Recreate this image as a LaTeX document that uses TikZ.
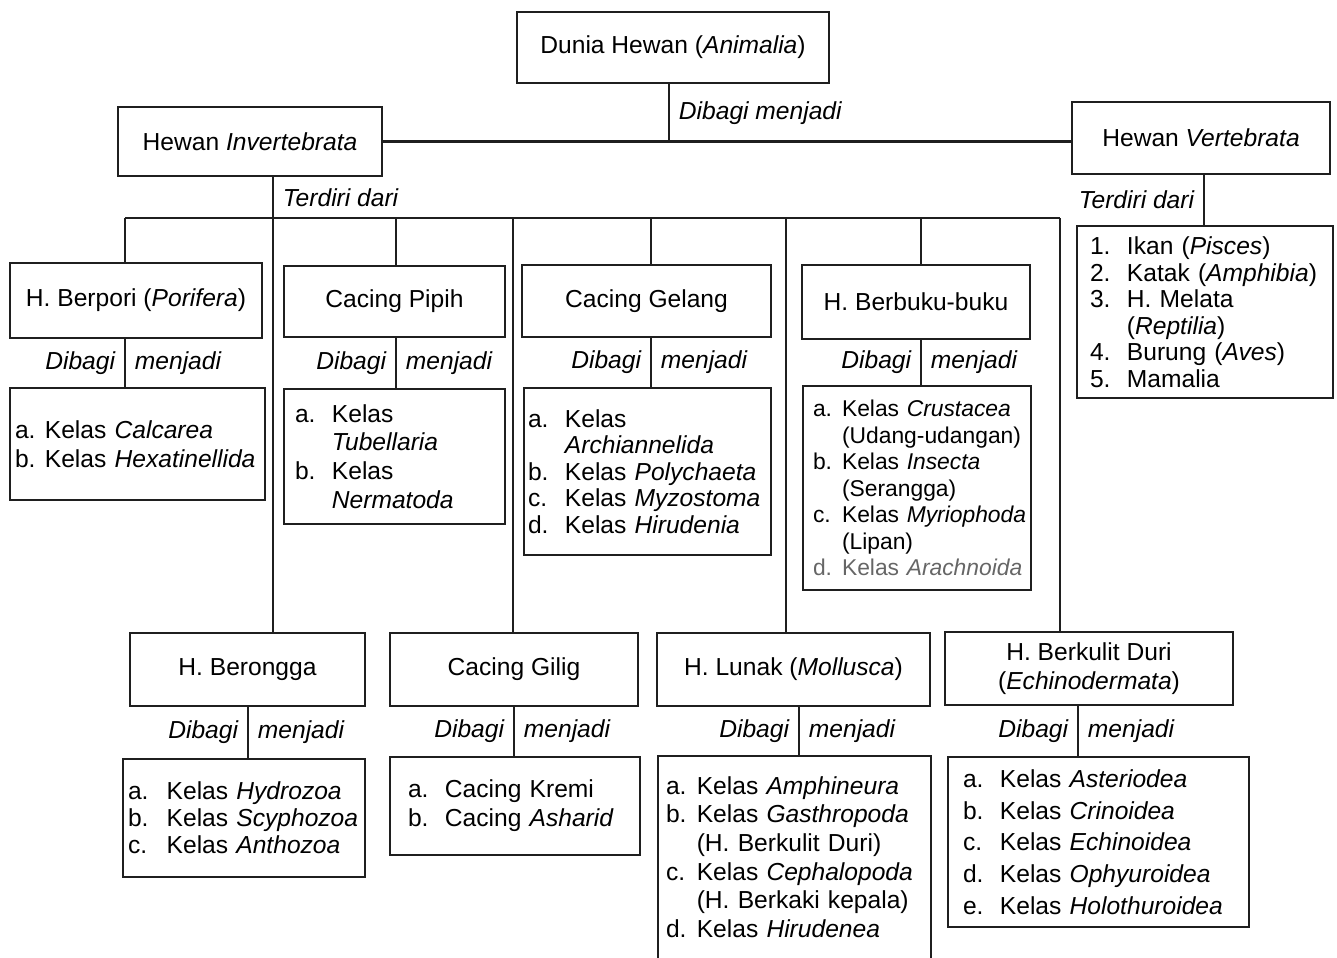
\documentclass[tikz,border=0pt]{standalone}
\usepackage{fontspec}
\setmainfont{Liberation Sans}
\usetikzlibrary{positioning}
\newcommand{\butir}[2][21pt]{\makebox[#1][l]{#2}}

\begin{document}
\begin{tikzpicture}[x=0.02cm,y=-0.02cm,
    garis/.style={line width=1.3pt, draw=black!88},
    kotak/.style={garis, rectangle, inner sep=0pt, align=center,
      font=\fontsize{14pt}{16.4pt}\selectfont},
    daftar/.style={garis, rectangle, inner ysep=0pt, align=left,
      font=\fontsize{14pt}{#1}\selectfont,
      execute at begin node={\hyphenpenalty=10000\exhyphenpenalty=10000}},
    ket/.style={font=\fontsize{14pt}{16pt}\selectfont\itshape, inner xsep=5pt}]
    \useasboundingbox (0,0) rectangle (1337,957);

    % puncak
    \node[kotak, minimum width=6.24cm, minimum height=1.42cm] (dunia) at (673,47.5)
      {Dunia Hewan (\emph{Animalia})};
    \node[kotak, minimum width=5.28cm, minimum height=1.38cm] (inv) at (250,141.5)
      {Hewan \emph{Invertebrata}};
    \node[kotak, minimum width=5.16cm, minimum height=1.44cm] (vert) at (1201,138)
      {Hewan \emph{Vertebrata}};

    % kelompok invertebrata
    \node[kotak, minimum width=5.04cm, minimum height=1.5cm] (porifera) at (136,300.5)
      {H. Berpori (\emph{Porifera})};
    \node[kotak, minimum width=4.42cm, minimum height=1.42cm] (pipih) at (394.5,301.5)
      {Cacing Pipih};
    \node[kotak, minimum width=4.98cm, minimum height=1.44cm] (gelang) at (646.5,301)
      {Cacing Gelang};
    \node[kotak, minimum width=4.56cm, minimum height=1.48cm] (buku) at (916,302)
      {H. Berbuku-buku};
    \node[kotak, minimum width=4.7cm, minimum height=1.46cm] (rongga) at (247.5,669.5)
      {H. Berongga};
    \node[kotak, minimum width=4.96cm, minimum height=1.46cm] (gilig) at (514,669.5)
      {Cacing Gilig};
    \node[kotak, minimum width=5.46cm, minimum height=1.46cm] (lunak) at (793.5,669.5)
      {H. Lunak (\emph{Mollusca})};
    \node[kotak, minimum width=5.76cm, minimum height=1.46cm] (duri) at (1089,668.5)
      {H. Berkulit Duri\\(\emph{Echinodermata})};

    % daftar kelas
    \node[daftar=16.4pt, text width=4.9cm, inner xsep=0.1cm, minimum height=2.24cm] (lpor) at (137.5,444)
      {\butir[17pt]{a.}Kelas~\emph{Calcarea}\\\butir[17pt]{b.}Kelas~\emph{Hexatinellida}};
    \node[daftar=16.3pt, text width=3.98cm, inner xsep=0.22cm, minimum height=2.7cm] (lpip) at (394.5,456.5)
      {\butir{a.}Kelas\\\butir{}\emph{Tubellaria}\\\butir{b.}Kelas\\\butir{}\emph{Nermatoda}};
    \node[daftar=15pt, text width=4.78cm, inner xsep=0.08cm, minimum height=3.34cm] (lgel) at (647.5,471.5)
      {\butir{a.}Kelas\\\butir{}\emph{Archiannelida}\\\butir{b.}Kelas~\emph{Polychaeta}\\
       \butir{c.}Kelas~\emph{Myzostoma}\\\butir{d.}Kelas~\emph{Hirudenia}};
    \node[daftar=15.1pt, font=\fontsize{13pt}{15.1pt}\selectfont, text width=4.16cm, inner xsep=0.2cm,
      minimum height=4.08cm] (lbuk) at (917,488)
      {\butir[16.5pt]{a.}Kelas~\emph{Crustacea}\\\butir[16.5pt]{}(Udang-udangan)\\
       \butir[16.5pt]{b.}Kelas~\emph{Insecta}\\\butir[16.5pt]{}(Serangga)\\
       \butir[16.5pt]{c.}Kelas~\emph{Myriophoda}\\\butir[16.5pt]{}(Lipan)\\
       {\color{black!60}\butir[16.5pt]{d.}Kelas~\emph{Arachnoida}}};
    \node[daftar=15.1pt, text width=4.6cm, inner xsep=0.26cm, minimum height=3.44cm] (lver) at (1205,312)
      {\butir{1.}Ikan~(\emph{Pisces})\\\butir{2.}Katak~(\emph{Amphibia})\\\butir{3.}H.~Melata\\
       \butir{}(\emph{Reptilia})\\\butir{4.}Burung~(\emph{Aves})\\\butir{5.}Mamalia};
    \node[daftar=15.3pt, text width=4.64cm, inner xsep=0.1cm, minimum height=2.36cm] (lber) at (244,818)
      {\butir[22pt]{a.}Kelas~\emph{Hydrozoa}\\\butir[22pt]{b.}Kelas~\emph{Scyphozoa}\\
       \butir[22pt]{c.}Kelas~\emph{Anthozoa}};
    \node[daftar=16.4pt, text width=4.28cm, inner xsep=0.36cm, minimum height=1.96cm] (lgil) at (515,806)
      {\butir{a.}Cacing~Kremi\\\butir{b.}Cacing~\emph{Asharid}};
    \node[daftar=16.3pt, draw=none, text width=5.14cm, inner xsep=0.14cm, minimum height=4cm] (lmol) at (794.5,857)
      {\butir[17.5pt]{a.}Kelas~\emph{Amphineura}\\\butir[17.5pt]{b.}Kelas~\emph{Gasthropoda}\\
       \butir[17.5pt]{}(H.~Berkulit~Duri)\\\butir[17.5pt]{c.}Kelas~\emph{Cephalopoda}\\
       \butir[17.5pt]{}(H.~Berkaki~kepala)\\\butir[17.5pt]{d.}Kelas~\emph{Hirudenea}};
    \draw[garis] (lmol.south west) -- (lmol.north west) -- (lmol.north east) -- (lmol.south east);
    \node[daftar=18.1pt, text width=5.42cm, inner xsep=0.3cm, minimum height=3.4cm] (lech) at (1098.5,842)
      {\butir{a.}Kelas~\emph{Asteriodea}\\\butir{b.}Kelas~\emph{Crinoidea}\\\butir{c.}Kelas~\emph{Echinoidea}\\
       \butir{d.}Kelas~\emph{Ophyuroidea}\\\butir{e.}Kelas~\emph{Holothuroidea}};

    % garis penghubung
    \draw[garis] (669,0 |- dunia.south) -- node[ket, right] {Dibagi menjadi} (669,0 |- inv.east);
    \draw[garis] (inv.east) -- (inv.east -| vert.west);
    \coordinate (b1) at (125,218);
    \coordinate (b2) at (273,218);
    \coordinate (b3) at (396,218);
    \coordinate (b4) at (513,218);
    \coordinate (b5) at (651,218);
    \coordinate (b6) at (786,218);
    \coordinate (b7) at (921,218);
    \coordinate (b8) at (1060,218);
    \draw[garis] (b1) -- (b8);
    \draw[garis] (b2 |- inv.south) -- node[ket, right] {Terdiri dari} (b2);
    \draw[garis] (b1) -- (b1 |- porifera.north);
    \draw[garis] (b2) -- (b2 |- rongga.north);
    \draw[garis] (b3) -- (b3 |- pipih.north);
    \draw[garis] (b4) -- (b4 |- gilig.north);
    \draw[garis] (b5) -- (b5 |- gelang.north);
    \draw[garis] (b6) -- (b6 |- lunak.north);
    \draw[garis] (b7) -- (b7 |- buku.north);
    \draw[garis] (b8) -- (b8 |- duri.north);
    \draw[garis] (1204,0 |- vert.south) -- node[ket, left] {Terdiri dari} (1204,0 |- lver.north);
    \foreach \atas/\bawah/\xx in {porifera/lpor/125, pipih/lpip/396, gelang/lgel/651, buku/lbuk/921,
        rongga/lber/248, gilig/lgil/514, lunak/lmol/799, duri/lech/1078}
      \draw[garis] (\xx,0 |- \atas.south) -- node[ket, left] {Dibagi} node[ket, right] {menjadi}
        (\xx,0 |- \bawah.north);
  \end{tikzpicture}
\end{document}
